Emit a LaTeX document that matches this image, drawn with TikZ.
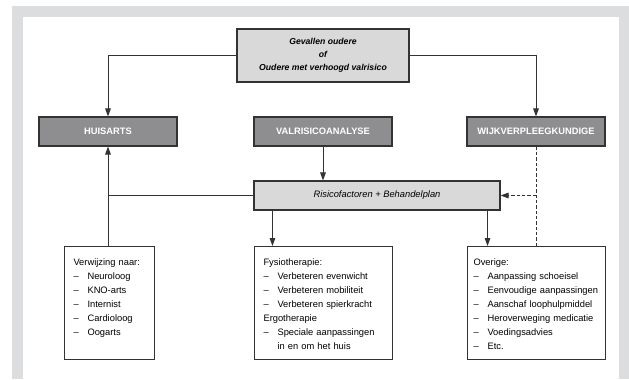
\documentclass[tikz,border=0pt]{standalone}
\usepackage{fontspec}
\setmainfont{Liberation Sans}
\usepackage{tikz}
\usetikzlibrary{arrows.meta}
\usepackage{xcolor}
\definecolor{kader}{HTML}{DCDDDF}
\definecolor{kopgrijs}{HTML}{8E8E90}
\definecolor{lichtgrijs}{HTML}{D9D9DA}
\definecolor{lijn}{HTML}{333333}
\newcommand{\itm}[1]{\makebox[10.5pt][l]{--}#1}

\begin{document}
\begin{tikzpicture}[x=0.75pt, y=-0.75pt,
		kop/.style={draw=lijn, fill=kopgrijs, line width=0.8pt, minimum width=103.5pt, minimum height=21.75pt, inner sep=0pt, text=white, font=\fontsize{7}{8}\selectfont\bfseries},
		licht/.style={draw=lijn, fill=lichtgrijs, line width=0.8pt, inner sep=0pt, align=center},
		lijst/.style={draw=lijn, fill=white, line width=0.8pt, anchor=north west, align=left, text width=#1, inner xsep=6.75pt, inner ysep=4pt, text height=10.25pt, text depth=66.5pt, font=\fontsize{7}{10.5}\selectfont},
		pijl/.style={draw=lijn, line width=0.75pt, -{Triangle[length=6pt,width=4.2pt]}},
		stippel/.style={draw=lijn, line width=0.75pt, dash pattern=on 2.5pt off 1.5pt}]
			
			% Frame
			\useasboundingbox (0,0) rectangle (629,379);
			\fill[white] (0,0) rectangle (629,379);
			\fill[kader] (12,6) rectangle (629,379);
			\fill[white] (23,17) rectangle (619,379);
			
			% Boxes
			\node[licht, minimum width=129pt, minimum height=39.75pt, font=\fontsize{6.5}{9.6}\selectfont\bfseries\itshape] (start) at (323,55.5) {Gevallen oudere\\of\\Oudere met verhoogd valrisico};
			\node[kop] (huis) at (108,131.5) {HUISARTS};
			\node[kop] (valr) at (323,131.5) {VALRISICOANALYSE};
			\node[kop] (wijk) at (536,131.5) {WIJKVERPLEEGKUNDIGE};
			\node[licht, minimum width=184.5pt, minimum height=21.75pt, font=\fontsize{7}{8}\selectfont\itshape] (plan) at (377,195.5) {Risicofactoren + Behandelplan};
			
			\node[lijst=54pt] (verw) at (64,246) {Verwijzing naar:\\\itm{Neuroloog}\\\itm{KNO-arts}\\\itm{Internist}\\\itm{Cardioloog}\\\itm{Oogarts}};
			\node[lijst=90pt] (fysio) at (254,246) {Fysiotherapie:\\\itm{Verbeteren evenwicht}\\\itm{Verbeteren mobiliteit}\\\itm{Verbeteren spierkracht}\\Ergotherapie\\\itm{Speciale aanpassingen}\\\hspace*{10.5pt}in en om het huis};
			\node[lijst=94.5pt, inner xsep=4.5pt] (overig) at (467,246) {Overige:\\\itm{Aanpassing schoeisel}\\\itm{Eenvoudige aanpassingen}\\\itm{Aanschaf loophulpmiddel}\\\itm{Heroverweging medicatie}\\\itm{Voedingsadvies}\\\itm{Etc.}};
			
			% Connectors
			\draw[pijl] (start.west) -| (huis.north);
			\draw[pijl] (start.east) -| (wijk.north);
			\draw[pijl] (valr.south) -- (valr.south |- plan.north);
			\draw[draw=lijn, line width=0.75pt] (plan.west) -- (plan.west -| huis.south);
			\draw[pijl] (huis.south |- verw.north) -- (huis.south);
			\draw[pijl] ([xshift=14.25pt]plan.south west) -- ([xshift=14.25pt]plan.south west |- fysio.north);
			\draw[pijl] ([xshift=-9.75pt]plan.south east) -- ([xshift=-9.75pt]plan.south east |- overig.north);
			\draw[stippel] (wijk.south) -- (wijk.south |- overig.north);
			\draw[stippel, -{Triangle[length=6pt,width=4.2pt]}] (wijk.south |- plan.east) -- (plan.east);
		\end{tikzpicture}
\end{document}
